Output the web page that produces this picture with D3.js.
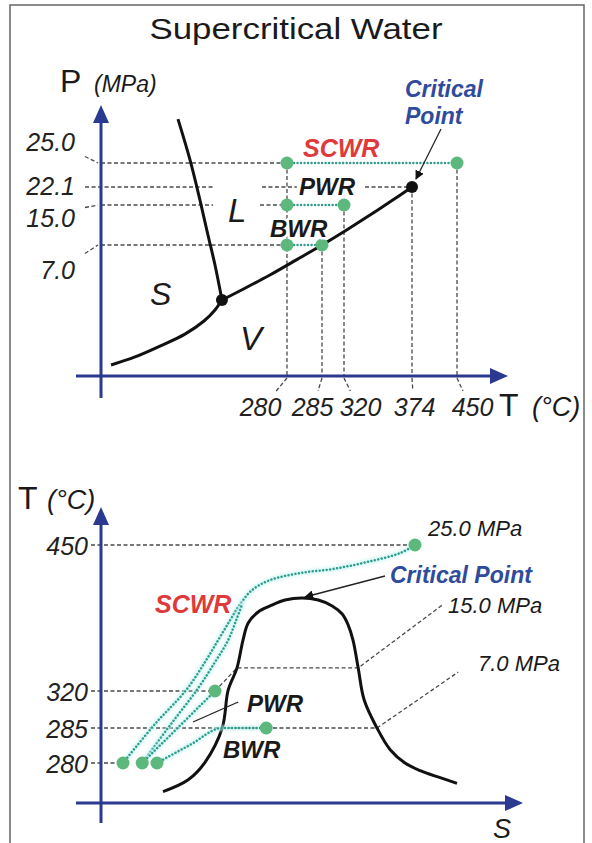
<!DOCTYPE html>
<html>
<head>
<meta charset="utf-8">
<script src="https://cdn.jsdelivr.net/npm/d3@7"></script>
<style>
  body { margin: 0; background: #fff; }
  svg { display: block; }
  text { font-family: "Liberation Sans", Arial, sans-serif; }
</style>
</head>
<body>
<script>
// ---------- data ----------
var titleText = "Supercritical Water";

// upper diagram : pressure vs temperature
var tTicks = [280, 285, 320, 374, 450];
var tGuideTop = [25.0, 7.0, 15.0, 22.1, 25.0];      // pressure where each temperature guide starts
var pTicks = [25.0, 22.1, 15.0, 7.0];
// [pressure, from T, to T]
var pGuides = [[25.0, 0, 280], [22.1, -24, 168.6], [22.1, 242.3, 281.4], [22.1, 336.7, 374],
               [15.0, 0, 168.6], [15.0, 239.3, 280], [7.0, 0, 280]];
var reactors = ["SCWR", "PWR", "BWR"];
var reactorP = [25.0, 15.0, 7.0];
var reactorTin = [280, 280, 280];
var reactorTout = [450, 320, 285];
var sublimation = [[15.1, 0.59], [51.2, 1.02], [88.8, 1.60], [126.4, 2.24], [155.0, 2.94], [171.6, 3.53], [182.1, 4.06]];
var melting = [[115.9, 30.3], [133.9, 25.4], [148.9, 17.0], [161.0, 9.0], [171.6, 5.93], [182.1, 4.06]];
var vaporization = [[182.1, 4.06], [216.7, 4.69], [254.3, 5.40], [281.4, 6.22], [285, 7.0],
                    [322.4, 10.06], [342.2, 13.24], [360.5, 17.52], [374, 22.1]];
var triplePoint = [182.1, 4.06];
var criticalPoint = [374, 22.1];

// lower diagram : temperature vs entropy (entropy in arbitrary units)
var tsTicks = [450, 320, 285, 280];
var tsGuideEnd = [7.85, 2.85, 6.9, 0.55];            // entropy where each temperature guide ends
var dome = [[1.55, 275.9], [2.18, 277.6], [2.6, 280.1], [3.03, 285], [3.18, 320.6], [3.4, 333.4], [3.55, 349.6],
            [3.68, 359.5], [3.93, 365.9], [4.23, 369.4], [4.6, 372.8], [5.03, 374], [5.43, 372.8], [5.78, 369.4],
            [6.03, 364.7], [6.18, 358.3], [6.3, 349.6], [6.43, 333.4], [6.58, 311.5], [6.9, 285], [7.23, 281.9],
            [7.6, 280], [7.98, 278.9], [8.48, 277.9], [8.9, 277.1]];
var scwrPath = [[0.55, 280], [1.35, 288.8], [2.13, 320.6], [2.6, 336.8], [2.93, 349.6], [3.23, 361.2], [3.48, 370.5],
                [3.78, 385.5], [4.23, 399.8], [4.98, 409.8], [5.8, 415.6], [6.65, 425.6], [7.48, 438.5], [7.85, 450]];
var scwrPath2 = [[1.03, 280], [1.73, 287.8], [2.43, 321.7], [2.85, 336.8], [3.18, 349.6], [3.38, 361.2], [3.53, 370.5]];
var pwrPath = [[1.03, 280], [2.85, 320]];
var bwrPath = [[1.4, 280], [2.23, 282.6], [3.03, 285], [4.13, 285]];
var isobar15 = [[2.85, 320], [3.4, 333.4], [6.43, 333.4], [8.53, 369.9]];
var isobar7 = [[6.9, 285], [8.93, 331.0]];
var tsDots = [[0.55, 280], [1.03, 280], [1.4, 280], [2.85, 320], [4.13, 285], [7.85, 450]];
var isobarNames = ["25.0 MPa", "15.0 MPa", "7.0 MPa"];
var pwrLeader = [[2.3, 290.7], [3.43, 309.6]];

// ---------- setup ----------
var W = 592, H = 843;
var blue = "#2b3990", grey = "#4a4a4a", dotGreen = "#5cb87c", teal = "#2f9c8a", red = "#e0393b", cpBlue = "#2f4b9c";

var svg = d3.select("body").append("svg").attr("width", W).attr("height", H);
var defs = svg.append("defs");
defs.append("filter").attr("id", "glow").attr("x", "-20%").attr("y", "-20%").attr("width", "140%").attr("height", "140%")
    .append("feGaussianBlur").attr("stdDeviation", 1.4);
defs.append("marker").attr("id", "arr").attr("viewBox", "0 0 10 10").attr("refX", 9).attr("refY", 5)
    .attr("markerWidth", 7).attr("markerHeight", 7).attr("orient", "auto")
  .append("path").attr("d", "M0,0L10,5L0,10z").attr("fill", "#111");

// frame
svg.append("rect").attr("x", 10).attr("y", 5).attr("width", 574).attr("height", 860)
   .attr("fill", "none").attr("stroke", "#666").attr("stroke-width", 1.5);

function label(g, s, x, y, size, opt) {
  opt = opt || {};
  var t = g.append("text").attr("x", x).attr("y", y).attr("font-size", size)
    .attr("font-style", opt.italic ? "italic" : "normal")
    .attr("font-weight", opt.bold ? "bold" : "normal")
    .attr("fill", opt.fill || "#1a1a1a")
    .attr("text-anchor", opt.anchor || "start")
    .text(s);
  if (opt.halo) t.attr("stroke", "#fff").attr("stroke-width", 5).attr("stroke-linejoin", "round").attr("paint-order", "stroke");
  return t;
}

function arrowAxis(g, x1, y1, x2, y2) {
  var dx = x2 - x1, dy = y2 - y1, len = Math.sqrt(dx * dx + dy * dy), ux = dx / len, uy = dy / len;
  var hl = 18, hw = 8;
  g.append("line").attr("x1", x1).attr("y1", y1).attr("x2", x2 - ux * hl * 0.8).attr("y2", y2 - uy * hl * 0.8)
    .attr("stroke", blue).attr("stroke-width", 3);
  var bx = x2 - ux * hl, by = y2 - uy * hl;
  g.append("path").attr("d", "M" + x2 + "," + y2 + "L" + (bx - uy * hw) + "," + (by + ux * hw) + "L" + (bx + uy * hw) + "," + (by - ux * hw) + "Z")
    .attr("fill", blue);
}

function dashed(sel) {
  return sel.attr("fill", "none").attr("stroke", grey).attr("stroke-width", 1.3).attr("stroke-dasharray", "4,2.5");
}

function greenPath(g, d) {
  g.append("path").attr("d", d).attr("fill", "none").attr("stroke", "#c6f2f1").attr("stroke-width", 5)
    .attr("stroke-opacity", 0.75).attr("stroke-linecap", "round").attr("filter", "url(#glow)");
  g.append("path").attr("d", d).attr("fill", "none").attr("stroke", teal).attr("stroke-width", 2.5)
    .attr("stroke-linecap", "round").attr("stroke-dasharray", "0.01,3.5");
}

// title
label(svg, titleText, 296, 39, 30, {anchor: "middle"}).attr("textLength", 293).attr("lengthAdjust", "spacingAndGlyphs");

// ---------- upper diagram ----------
var xT = d3.scaleLinear().domain([0, 280, 285, 320, 374, 450]).range([101, 287, 322, 344, 412, 457]);
var yP = d3.scaleLinear().domain([0, 7, 15, 22.1, 25]).range([376, 245, 205, 187, 163]);
var upper = svg.append("g");
var lineTP = d3.line().x(function(d) { return xT(d[0]); }).y(function(d) { return yP(d[1]); });

// guides
pGuides.forEach(function(s) {
  dashed(upper.append("line").attr("x1", xT(s[1])).attr("x2", xT(s[2])).attr("y1", yP(s[0])).attr("y2", yP(s[0])));
});
tTicks.forEach(function(t, i) {
  dashed(upper.append("line").attr("x1", xT(t)).attr("x2", xT(t)).attr("y1", yP(tGuideTop[i])).attr("y2", yP(0)));
});

// phase boundaries
[sublimation, melting, vaporization].forEach(function(c) {
  upper.append("path").attr("d", lineTP.curve(d3.curveCatmullRom)(c)).attr("fill", "none")
    .attr("stroke", "#111").attr("stroke-width", 3);
});

// reactor operating lines
reactors.forEach(function(r, i) {
  greenPath(upper, d3.line()([[xT(reactorTin[i]), yP(reactorP[i])], [xT(reactorTout[i]), yP(reactorP[i])]]));
});
reactors.forEach(function(r, i) {
  [reactorTin[i], reactorTout[i]].forEach(function(t) {
    upper.append("circle").attr("cx", xT(t)).attr("cy", yP(reactorP[i])).attr("r", 6.5).attr("fill", dotGreen);
  });
});
[triplePoint, criticalPoint].forEach(function(p) {
  upper.append("circle").attr("cx", xT(p[0])).attr("cy", yP(p[1])).attr("r", 6).attr("fill", "#111");
});

// axes
var xAxisTop = upper.append("g").attr("transform", "translate(0," + yP(0) + ")")
  .call(d3.axisBottom(xT).tickValues(tTicks).tickSize(0).tickFormat(d3.format("d")));
xAxisTop.select(".domain").remove();
var tLabelDx = [-27, -10, 16, 2, 15];
xAxisTop.selectAll("text").attr("y", 40).attr("dy", 0).attr("x", function(d, i) { return tLabelDx[i]; })
  .attr("font-size", 25).attr("font-style", "italic").attr("fill", "#222");
tTicks.forEach(function(t, i) {
  dashed(upper.append("line").attr("x1", xT(t)).attr("y1", yP(0) + 2).attr("x2", xT(t) + tLabelDx[i] * 0.4).attr("y2", yP(0) + 15));
});

var yAxisTop = upper.append("g").attr("transform", "translate(" + xT(0) + ",0)")
  .call(d3.axisLeft(yP).tickValues(pTicks).tickSize(0).tickFormat(d3.format(".1f")));
yAxisTop.select(".domain").remove();
var pLabelDy = [-13, 7, 21, 33];
yAxisTop.selectAll("text").attr("x", -26).attr("dy", 0).attr("y", function(d, i) { return pLabelDy[i]; })
  .attr("font-size", 25).attr("font-style", "italic").attr("fill", "#222");
pTicks.forEach(function(p, i) {
  if (pLabelDy[i] > -10 && pLabelDy[i] < 10) return;
  var yy = yP(p), ly = yy + pLabelDy[i] * 0.5 + (pLabelDy[i] < 0 ? 0 : -8);
  dashed(upper.append("line").attr("x1", xT(0) - 16).attr("y1", ly).attr("x2", xT(0) - 3).attr("y2", yy));
});

arrowAxis(upper, xT(0), yP(0) + 22, xT(0), 105);
arrowAxis(upper, 76, yP(0), 508, yP(0));

// labels
label(upper, "P", 60, 92, 32);
label(upper, "(MPa)", 94, 92, 23, {italic: true});
label(upper, "T", 499, 416, 32);
label(upper, "(°C)", 532, 416, 27, {italic: true});
label(upper, "Critical", 405, 97, 23, {italic: true, bold: true, fill: cpBlue});
label(upper, "Point", 405, 124, 23, {italic: true, bold: true, fill: cpBlue});
upper.append("line").attr("x1", xT(374) + 29).attr("y1", yP(22.1) - 58).attr("x2", xT(374) + 4).attr("y2", yP(22.1) - 8)
  .attr("stroke", "#222").attr("stroke-width", 1.3).attr("marker-end", "url(#arr)");
label(upper, reactors[0], 303, 157, 25, {italic: true, bold: true, fill: red, halo: true});
label(upper, reactors[1], 299, 195, 24, {italic: true, bold: true, halo: true});
label(upper, reactors[2], 270, 237, 24, {italic: true, bold: true, halo: true});
label(upper, "L", 228, 222, 33, {italic: true});
label(upper, "S", 150, 305, 32, {italic: true});
label(upper, "V", 240, 350, 33, {italic: true});

// ---------- lower diagram ----------
var xS = d3.scaleLinear().domain([0, 10]).range([101, 501]);
var yT = d3.scaleLinear().domain([280, 285, 320, 374, 450]).range([763, 728, 691, 598, 545]);
var lower = svg.append("g");
var lineTS = d3.line().x(function(d) { return xS(d[0]); }).y(function(d) { return yT(d[1]); });

tsTicks.forEach(function(t, i) {
  dashed(lower.append("line").attr("x1", xS(0) - 10).attr("x2", xS(tsGuideEnd[i])).attr("y1", yT(t)).attr("y2", yT(t)));
});
dashed(lower.append("path").attr("d", lineTS.curve(d3.curveLinear)(isobar15)));
dashed(lower.append("path").attr("d", lineTS.curve(d3.curveLinear)(isobar7)));

lower.append("path").attr("d", lineTS.curve(d3.curveCatmullRom)(dome)).attr("fill", "none")
  .attr("stroke", "#111").attr("stroke-width", 3);

greenPath(lower, lineTS.curve(d3.curveCatmullRom)(scwrPath));
greenPath(lower, lineTS.curve(d3.curveCatmullRom)(scwrPath2));
greenPath(lower, lineTS.curve(d3.curveLinear)(pwrPath));
greenPath(lower, lineTS.curve(d3.curveMonotoneX)(bwrPath));
tsDots.forEach(function(d) {
  lower.append("circle").attr("cx", xS(d[0])).attr("cy", yT(d[1])).attr("r", 6.5).attr("fill", dotGreen);
});
lower.append("path").attr("d", lineTS.curve(d3.curveLinear)(pwrLeader)).attr("stroke", "#222").attr("stroke-width", 1.3);

var yAxisBot = lower.append("g").attr("transform", "translate(" + xS(0) + ",0)")
  .call(d3.axisLeft(yT).tickValues(tsTicks).tickSize(0).tickFormat(d3.format("d")));
yAxisBot.select(".domain").remove();
yAxisBot.selectAll("text").attr("x", -13).attr("dy", "0.36em")
  .attr("font-size", 25).attr("font-style", "italic").attr("fill", "#222");

arrowAxis(lower, xS(0), 823, xS(0), 507);
arrowAxis(lower, 76, 803, 523, 803);

label(lower, "T", 18, 509, 32);
label(lower, "(°C)", 47, 509, 27, {italic: true});
label(lower, "S", 493, 838, 27, {italic: true});
label(lower, isobarNames[0], 428, 536, 22, {italic: true});
label(lower, isobarNames[1], 448, 613, 22, {italic: true});
label(lower, isobarNames[2], 478, 671, 22, {italic: true});
label(lower, "Critical Point", 390, 583, 23, {italic: true, bold: true, fill: cpBlue});
lower.append("line").attr("x1", xS(5.05) + 82).attr("y1", yT(374) - 22).attr("x2", xS(5.05) + 2).attr("y2", yT(374) - 1)
  .attr("stroke", "#222").attr("stroke-width", 1.3).attr("marker-end", "url(#arr)");
label(lower, reactors[0], 155, 613, 25, {italic: true, bold: true, fill: red});
label(lower, reactors[1], 247, 712, 24, {italic: true, bold: true});
label(lower, reactors[2], 223, 758, 24, {italic: true, bold: true});
</script>
</body>
</html>
